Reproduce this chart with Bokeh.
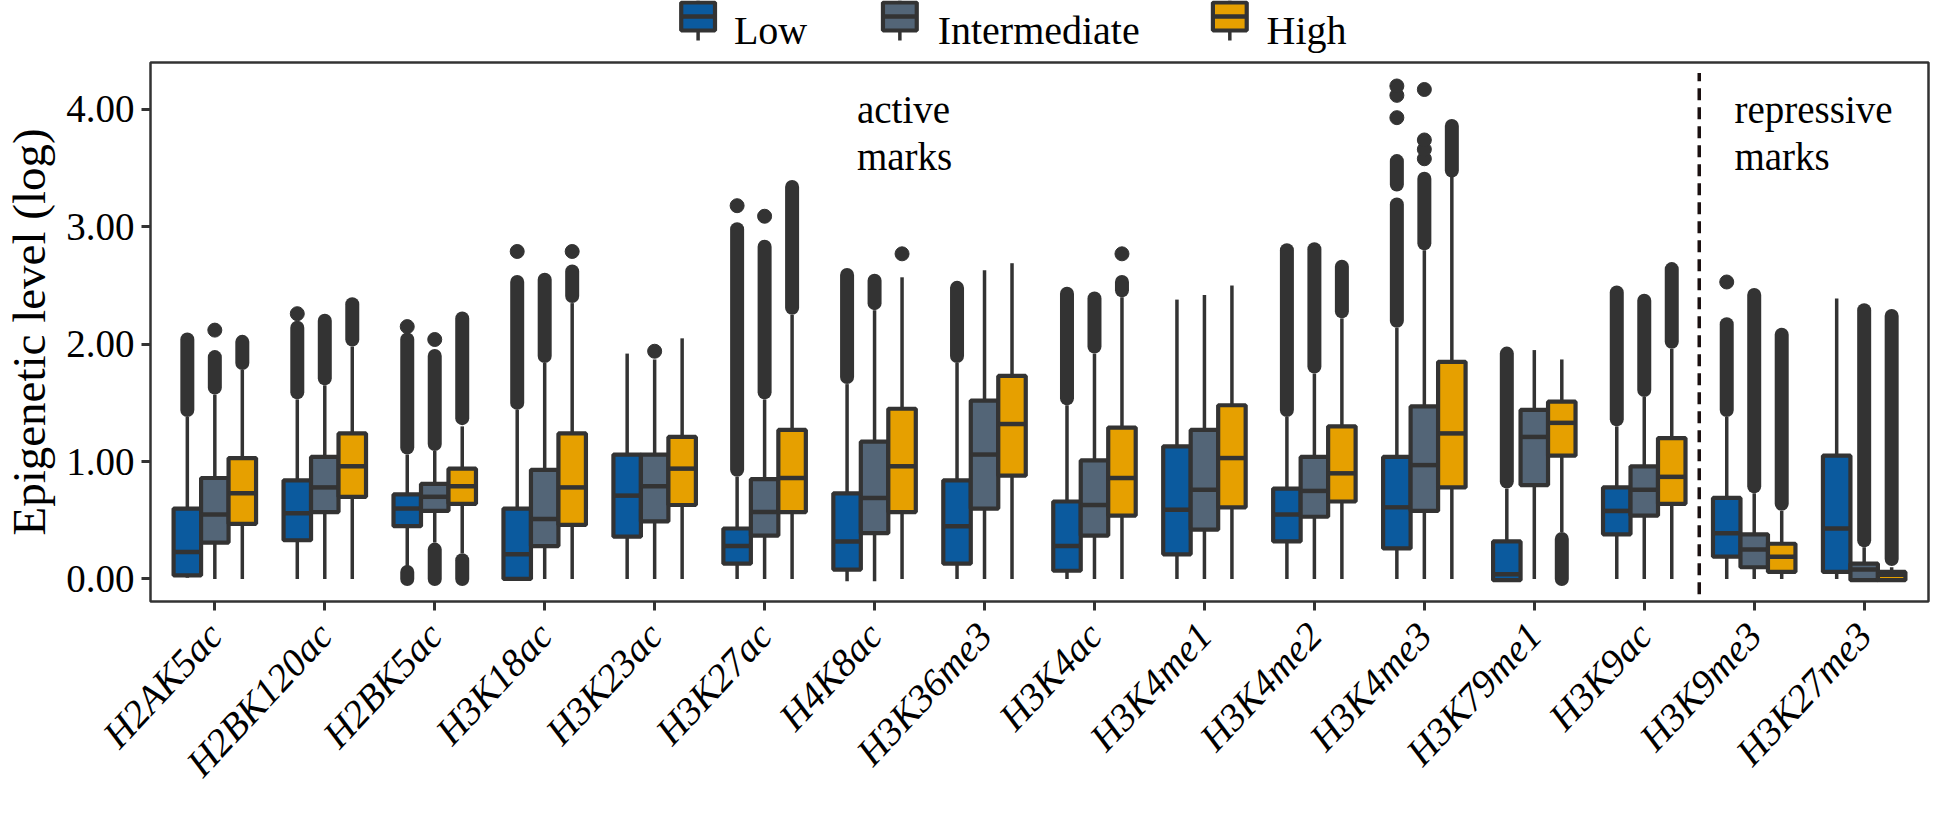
import math
from bokeh.plotting import figure
from bokeh.models import Range1d, FixedTicker, PrintfTickFormatter, Label
from bokeh.layouts import column
from bokeh.embed import file_html
from bokeh.resources import INLINE
from bokeh.core.properties import value

# ---------------- data ----------------
categories = ["H2AK5ac", "H2BK120ac", "H2BK5ac", "H3K18ac", "H3K23ac", "H3K27ac",
              "H4K8ac", "H3K36me3", "H3K4ac", "H3K4me1", "H3K4me2", "H3K4me3",
              "H3K79me1", "H3K9ac", "H3K9me3", "H3K27me3"]
groups = ["Low", "Intermediate", "High"]
group_colors = ["#0B5A9E", "#536577", "#E6A000"]
y_ticks = [0, 1, 2, 3, 4]

low_whislo = [0.01, 0.0, 0.10, 0.0, 0.0, 0.0, -0.02, 0.0, 0.0, 0.0, 0.0, 0.0, -0.01, 0.0, 0.0, 0.0]
low_q1     = [0.03, 0.33, 0.45, 0.0, 0.36, 0.13, 0.08, 0.13, 0.07, 0.21, 0.32, 0.26, -0.01, 0.38, 0.19, 0.06]
low_med    = [0.23, 0.56, 0.60, 0.21, 0.71, 0.28, 0.32, 0.45, 0.28, 0.59, 0.55, 0.61, 0.04, 0.58, 0.39, 0.43]
low_q3     = [0.60, 0.84, 0.72, 0.60, 1.06, 0.43, 0.73, 0.84, 0.66, 1.13, 0.77, 1.04, 0.32, 0.78, 0.69, 1.05]
low_whishi = [1.38, 1.53, 1.06, 1.44, 1.92, 0.87, 1.66, 1.84, 1.48, 2.38, 1.38, 2.14, 0.77, 1.30, 1.38, 2.39]

int_whislo = [0.0, 0.0, 0.31, 0.0, 0.0, 0.0, -0.02, 0.0, 0.0, 0.0, 0.0, 0.0, 0.0, 0.0, 0.0, -0.01]
int_q1     = [0.31, 0.57, 0.58, 0.28, 0.49, 0.37, 0.39, 0.60, 0.37, 0.42, 0.53, 0.58, 0.80, 0.54, 0.10, -0.01]
int_med    = [0.55, 0.78, 0.70, 0.51, 0.79, 0.57, 0.69, 1.06, 0.63, 0.76, 0.75, 0.97, 1.21, 0.76, 0.25, 0.08]
int_q3     = [0.86, 1.04, 0.81, 0.93, 1.06, 0.85, 1.17, 1.52, 1.01, 1.27, 1.04, 1.47, 1.44, 0.96, 0.38, 0.13]
int_whishi = [1.57, 1.65, 1.09, 1.84, 1.87, 1.53, 2.29, 2.63, 1.92, 2.42, 1.75, 2.80, 1.95, 1.55, 0.73, 0.27]

high_whislo = [0.0, 0.0, 0.22, 0.0, 0.0, 0.0, 0.0, 0.0, 0.0, 0.0, 0.0, 0.0, 0.40, 0.0, 0.0, -0.01]
high_q1     = [0.47, 0.70, 0.64, 0.46, 0.63, 0.57, 0.57, 0.88, 0.54, 0.61, 0.66, 0.78, 1.05, 0.64, 0.06, -0.01]
high_med    = [0.73, 0.96, 0.79, 0.78, 0.94, 0.86, 0.96, 1.32, 0.86, 1.03, 0.90, 1.24, 1.33, 0.87, 0.19, 0.035]
high_q3     = [1.03, 1.24, 0.94, 1.24, 1.21, 1.27, 1.45, 1.73, 1.29, 1.48, 1.30, 1.85, 1.51, 1.20, 0.30, 0.06]
high_whishi = [1.78, 1.98, 1.30, 2.35, 2.05, 2.25, 2.57, 2.69, 2.40, 2.50, 2.22, 3.43, 1.87, 1.96, 0.58, 0.10]

# dense runs of outliers (lowest and highest outlier of the run)
low_bands = [("H2AK5ac", 1.44, 2.04), ("H2BK120ac", 1.59, 2.14), ("H2BK5ac", 1.12, 2.04),
             ("H2BK5ac", 0.0, 0.06), ("H3K18ac", 1.50, 2.53), ("H3K27ac", 0.93, 2.98),
             ("H4K8ac", 1.72, 2.59), ("H3K36me3", 1.90, 2.48), ("H3K4ac", 1.54, 2.43),
             ("H3K4me2", 1.44, 2.80), ("H3K4me3", 2.20, 3.19), ("H3K4me3", 3.36, 3.56),
             ("H3K79me1", 0.83, 1.92), ("H3K9ac", 1.36, 2.44), ("H3K9me3", 1.44, 2.17)]
int_bands = [("H2AK5ac", 1.63, 1.89), ("H2BK120ac", 1.71, 2.20), ("H2BK5ac", 1.15, 1.90),
             ("H2BK5ac", 0.0, 0.25), ("H3K18ac", 1.90, 2.55), ("H3K27ac", 1.59, 2.83),
             ("H4K8ac", 2.35, 2.54), ("H3K4ac", 1.98, 2.39), ("H3K4me2", 1.81, 2.81),
             ("H3K4me3", 2.86, 3.41), ("H3K9ac", 1.61, 2.37), ("H3K9me3", 0.79, 2.42),
             ("H3K27me3", 0.33, 2.29)]
high_bands = [("H2AK5ac", 1.84, 2.02), ("H2BK120ac", 2.04, 2.34), ("H2BK5ac", 1.37, 2.22),
              ("H2BK5ac", 0.0, 0.16), ("H3K18ac", 2.41, 2.62), ("H3K27ac", 2.31, 3.34),
              ("H3K4ac", 2.46, 2.53), ("H3K4me2", 2.28, 2.66), ("H3K4me3", 3.48, 3.86),
              ("H3K79me1", 0.0, 0.34), ("H3K9ac", 2.02, 2.64), ("H3K9me3", 0.64, 2.08),
              ("H3K27me3", 0.17, 2.24)]

# isolated outliers
low_points = [("H2BK120ac", 2.26), ("H2BK5ac", 2.15), ("H3K18ac", 2.79), ("H3K27ac", 3.18),
              ("H3K4me3", 3.93), ("H3K4me3", 4.12), ("H3K4me3", 4.20), ("H3K9me3", 2.53)]
int_points = [("H2AK5ac", 2.12), ("H2BK5ac", 2.04), ("H3K23ac", 1.94), ("H3K27ac", 3.09),
              ("H3K4me3", 3.58), ("H3K4me3", 3.66), ("H3K4me3", 3.74), ("H3K4me3", 4.17)]
high_points = [("H3K18ac", 2.79), ("H4K8ac", 2.77), ("H3K4ac", 2.77)]

# ---------------- styling / layout ----------------
FONT = "Liberation Serif"
DARK = "#333333"
dodge = [-0.25, 0.0, 0.25]
box_half = 0.125
BL, BR = 139, 2          # figure borders -> frame at page x 147 .. 1936

stats = [
    (low_whislo, low_q1, low_med, low_q3, low_whishi, low_bands, low_points),
    (int_whislo, int_q1, int_med, int_q3, int_whishi, int_bands, int_points),
    (high_whislo, high_q1, high_med, high_q3, high_whishi, high_bands, high_points),
]

p = figure(width=1930, height=745, x_range=Range1d(-0.585, 15.585),
           y_range=Range1d(-0.192, 4.40), output_backend="svg", toolbar_location=None,
           min_border_left=BL, min_border_right=BR, min_border_top=6, min_border_bottom=189)
p.xgrid.visible = False
p.ygrid.visible = False
p.outline_line_color = DARK
p.outline_line_width = 2.5
p.background_fill_color = "white"
p.border_fill_color = "white"

cat_index = {c: i for i, c in enumerate(categories)}

for g, (wlo, q1, med, q3, whi, bands, pts) in enumerate(stats):
    xs = [i + dodge[g] for i in range(len(categories))]
    # whiskers
    p.segment(x0=xs, y0=q3, x1=xs, y1=whi, line_color=DARK, line_width=3.5)
    p.segment(x0=xs, y0=wlo, x1=xs, y1=q1, line_color=DARK, line_width=3.5)
    # outliers
    bx = [cat_index[c] + dodge[g] for c, lo, hi in bands]
    p.segment(x0=bx, y0=[lo for c, lo, hi in bands], x1=bx, y1=[hi for c, lo, hi in bands],
              line_color=DARK, line_width=14, line_cap="round")
    px = [cat_index[c] + dodge[g] for c, v in pts]
    p.scatter(x=px, y=[v for c, v in pts], size=14, color=DARK)
    # boxes
    p.quad(left=[x - box_half for x in xs], right=[x + box_half for x in xs],
           bottom=q1, top=q3, fill_color=group_colors[g], line_color=DARK, line_width=4.2)
    p.segment(x0=[x - box_half for x in xs], y0=med, x1=[x + box_half for x in xs], y1=med,
              line_color=DARK, line_width=4.5)

# divider between active and repressive marks
div_x = (cat_index["H3K9ac"] + cat_index["H3K9me3"]) / 2
p.segment(x0=[div_x], y0=[-0.13], x1=[div_x], y1=[4.31], line_color="#1a1010",
          line_width=3.5, line_dash="12 7")

for txt, x, y in [("active", 5.84, 4.00), ("marks", 5.84, 3.60),
                  ("repressive", 13.82, 4.00), (" marks", 13.82, 3.60)]:
    p.add_layout(Label(x=x, y=y, text=txt, text_font=FONT, text_font_size="39px",
                       text_baseline="alphabetic", text_align="left", text_color="black"))

# axes
p.xaxis.ticker = FixedTicker(ticks=list(range(len(categories))))
p.xaxis.major_label_overrides = {i: c for i, c in enumerate(categories)}
p.xaxis.major_label_orientation = math.radians(47)
p.xaxis.major_label_text_font_style = "italic"
p.xaxis.major_label_text_font_size = "39px"
p.yaxis.ticker = FixedTicker(ticks=y_ticks)
p.yaxis.formatter = PrintfTickFormatter(format="%.2f")
p.yaxis.major_label_text_font_size = "39px"
p.yaxis.axis_label = "Epigenetic level (log)"
p.yaxis.axis_label_text_font_size = "47px"
p.yaxis.axis_label_text_font_style = "normal"
p.yaxis.axis_label_text_color = "black"
p.yaxis.axis_label_standoff = 8
for ax in (p.xaxis[0], p.yaxis[0]):
    ax.axis_line_color = None
    ax.major_tick_line_color = DARK
    ax.major_tick_line_width = 3
    ax.major_tick_in = 0
    ax.major_tick_out = 9
    ax.minor_tick_line_color = None
    ax.major_label_text_font = FONT
    ax.major_label_text_color = "black"
    ax.axis_label_text_font = FONT
p.yaxis.major_label_standoff = 7
p.xaxis.major_label_standoff = 18

# legend row: frame aligned with the main frame, data units = page pixels
lg = figure(width=1930, height=56, x_range=Range1d(147, 1936), y_range=Range1d(64, 8),
            output_backend="svg", toolbar_location=None, x_axis_type=None, y_axis_type=None,
            min_border_left=BL, min_border_right=BR, min_border_top=0, min_border_bottom=0)
lg.xgrid.visible = False
lg.ygrid.visible = False
lg.outline_line_color = None
key_x = [698, 901, 1233]
text_x = [734, 939, 1270]
lg.segment(x0=key_x, y0=[8] * 3, x1=key_x, y1=[48] * 3, line_color=DARK, line_width=3.5)
lg.quad(left=[k - 17 for k in key_x], right=[k + 17 for k in key_x], top=[10] * 3, bottom=[38] * 3,
        fill_color=group_colors, line_color=DARK, line_width=4.2)
lg.segment(x0=[k - 17 for k in key_x], y0=[24] * 3, x1=[k + 17 for k in key_x], y1=[24] * 3,
           line_color=DARK, line_width=4.5)
lg.text(x=text_x, y=[38] * 3, text=groups, text_font=value(FONT), text_font_size="40px",
        text_baseline="alphabetic", text_align="left", text_color="black")

layout = column(lg, p, spacing=0)
open("out.html", "w").write(file_html(layout, INLINE))
